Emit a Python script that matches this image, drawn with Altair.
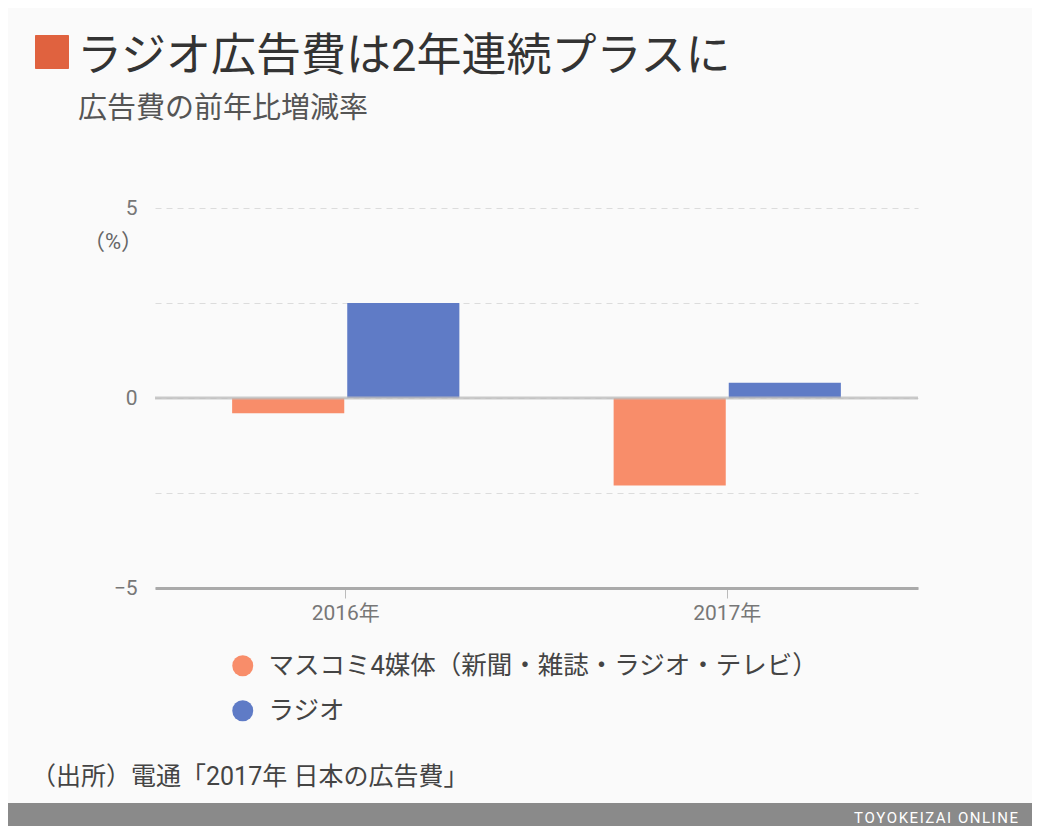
import altair as alt
import pandas as pd

# ---- data ----
years = ["2016年", "2017年"]
series_names = ["マスコミ4媒体（新聞・雑誌・ラジオ・テレビ）", "ラジオ"]
mass_media = [-0.4, -2.3]
radio = [2.5, 0.4]
colors = ["#F88D6A", "#5F7BC6"]

title_text = "ラジオ広告費は2年連続プラスに"
subtitle_text = "広告費の前年比増減率"
unit_text = "（%）"
source_text = "（出所）電通「2017年 日本の広告費」"
footer_text = "TOYOKEIZAI ONLINE"
y_ticks = [-5, -2.5, 0, 2.5, 5]

rows = []
for i, y in enumerate(years):
    rows.append({"year": y, "series": series_names[0], "value": mass_media[i]})
    rows.append({"year": y, "series": series_names[1], "value": radio[i]})
df = pd.DataFrame(rows)

FONT = "Roboto, Noto Sans CJK JP"
W, H = 763, 380

bars = alt.Chart(df).mark_bar().encode(
    x=alt.X("year:N", sort=years, title=None,
            scale=alt.Scale(paddingInner=0, paddingOuter=0),
            axis=alt.Axis(labelAngle=0, labelFontSize=21, labelColor="#777",
                          labelFont=FONT, domainColor="#aaa", domainWidth=3,
                          tickColor="#bbb", tickSize=10, tickWidth=1,
                          labelPadding=4, grid=False)),
    xOffset=alt.XOffset("series:N", sort=series_names,
                        scale=alt.Scale(paddingInner=0.026, paddingOuter=0.67)),
    y=alt.Y("value:Q", title=None,
            scale=alt.Scale(domain=[-5, 5], nice=False, zero=False),
            axis=alt.Axis(values=y_ticks, labelExpr="datum.value % 5 == 0 ? datum.label : ''",
                          labelFontSize=21, labelColor="#777", labelFont=FONT,
                          ticks=False, domain=False, labelPadding=18,
                          gridColor="#dcdcdc", gridDash=[6, 5], gridWidth=1)),
    color=alt.Color("series:N", sort=series_names,
                    scale=alt.Scale(domain=series_names, range=colors),
                    legend=alt.Legend(title=None, orient="none", legendX=75, legendY=445,
                                      symbolType="circle", symbolSize=441,
                                      symbolStrokeWidth=0, labelFontSize=25.5,
                                      labelColor="#444", labelFont=FONT,
                                      rowPadding=18, labelOffset=13, padding=0,
                                      labelLimit=900)),
)

zero_df = pd.DataFrame({"v": [0]})
zero_rule = alt.Chart(zero_df).mark_rule(color="#bdbdbd", strokeWidth=3, opacity=0.8).encode(y="v:Q")

def txt(text, x, y, size, color, align="left", baseline="alphabetic", weight="normal"):
    d = pd.DataFrame({"t": [text]})
    return alt.Chart(d).mark_text(align=align, baseline=baseline, fontSize=size, color=color,
                                  font=FONT, fontWeight=weight).encode(
        text="t:N", x=alt.value(x), y=alt.value(y))

sq_df = pd.DataFrame({"k": [1]})
square = alt.Chart(sq_df).mark_rect(color="#E0623F", cornerRadius=1).encode(
    x=alt.value(-120), x2=alt.value(-86), y=alt.value(-173), y2=alt.value(-139))

footer = alt.Chart(sq_df).mark_rect(color="#8a8a8a").encode(
    x=alt.value(-147), x2=alt.value(877), y=alt.value(595), y2=alt.value(618))

title = txt(title_text, -78, -137, 45, "#333", weight="normal")
subtitle = txt(subtitle_text, -77, -90, 29, "#555")
unit = txt(unit_text, -42, 34, 22, "#666", align="center", baseline="middle")
source = txt(source_text, -124, 577, 25, "#444")
footer_t = txt("\u200a".join(footer_text), 863, 615, 15, "#ffffff", align="right")

chart = alt.layer(bars, zero_rule, square, title, subtitle, unit, source, footer, footer_t).properties(
    width=W, height=H,
    autosize=alt.AutoSizeParams(type="none"),
    padding={"left": 147, "top": 200, "right": 114, "bottom": 238},
    background="#fafafa",
).configure_view(stroke=None)

chart.save("out.html", embed_options={"renderer": "svg", "actions": False})
